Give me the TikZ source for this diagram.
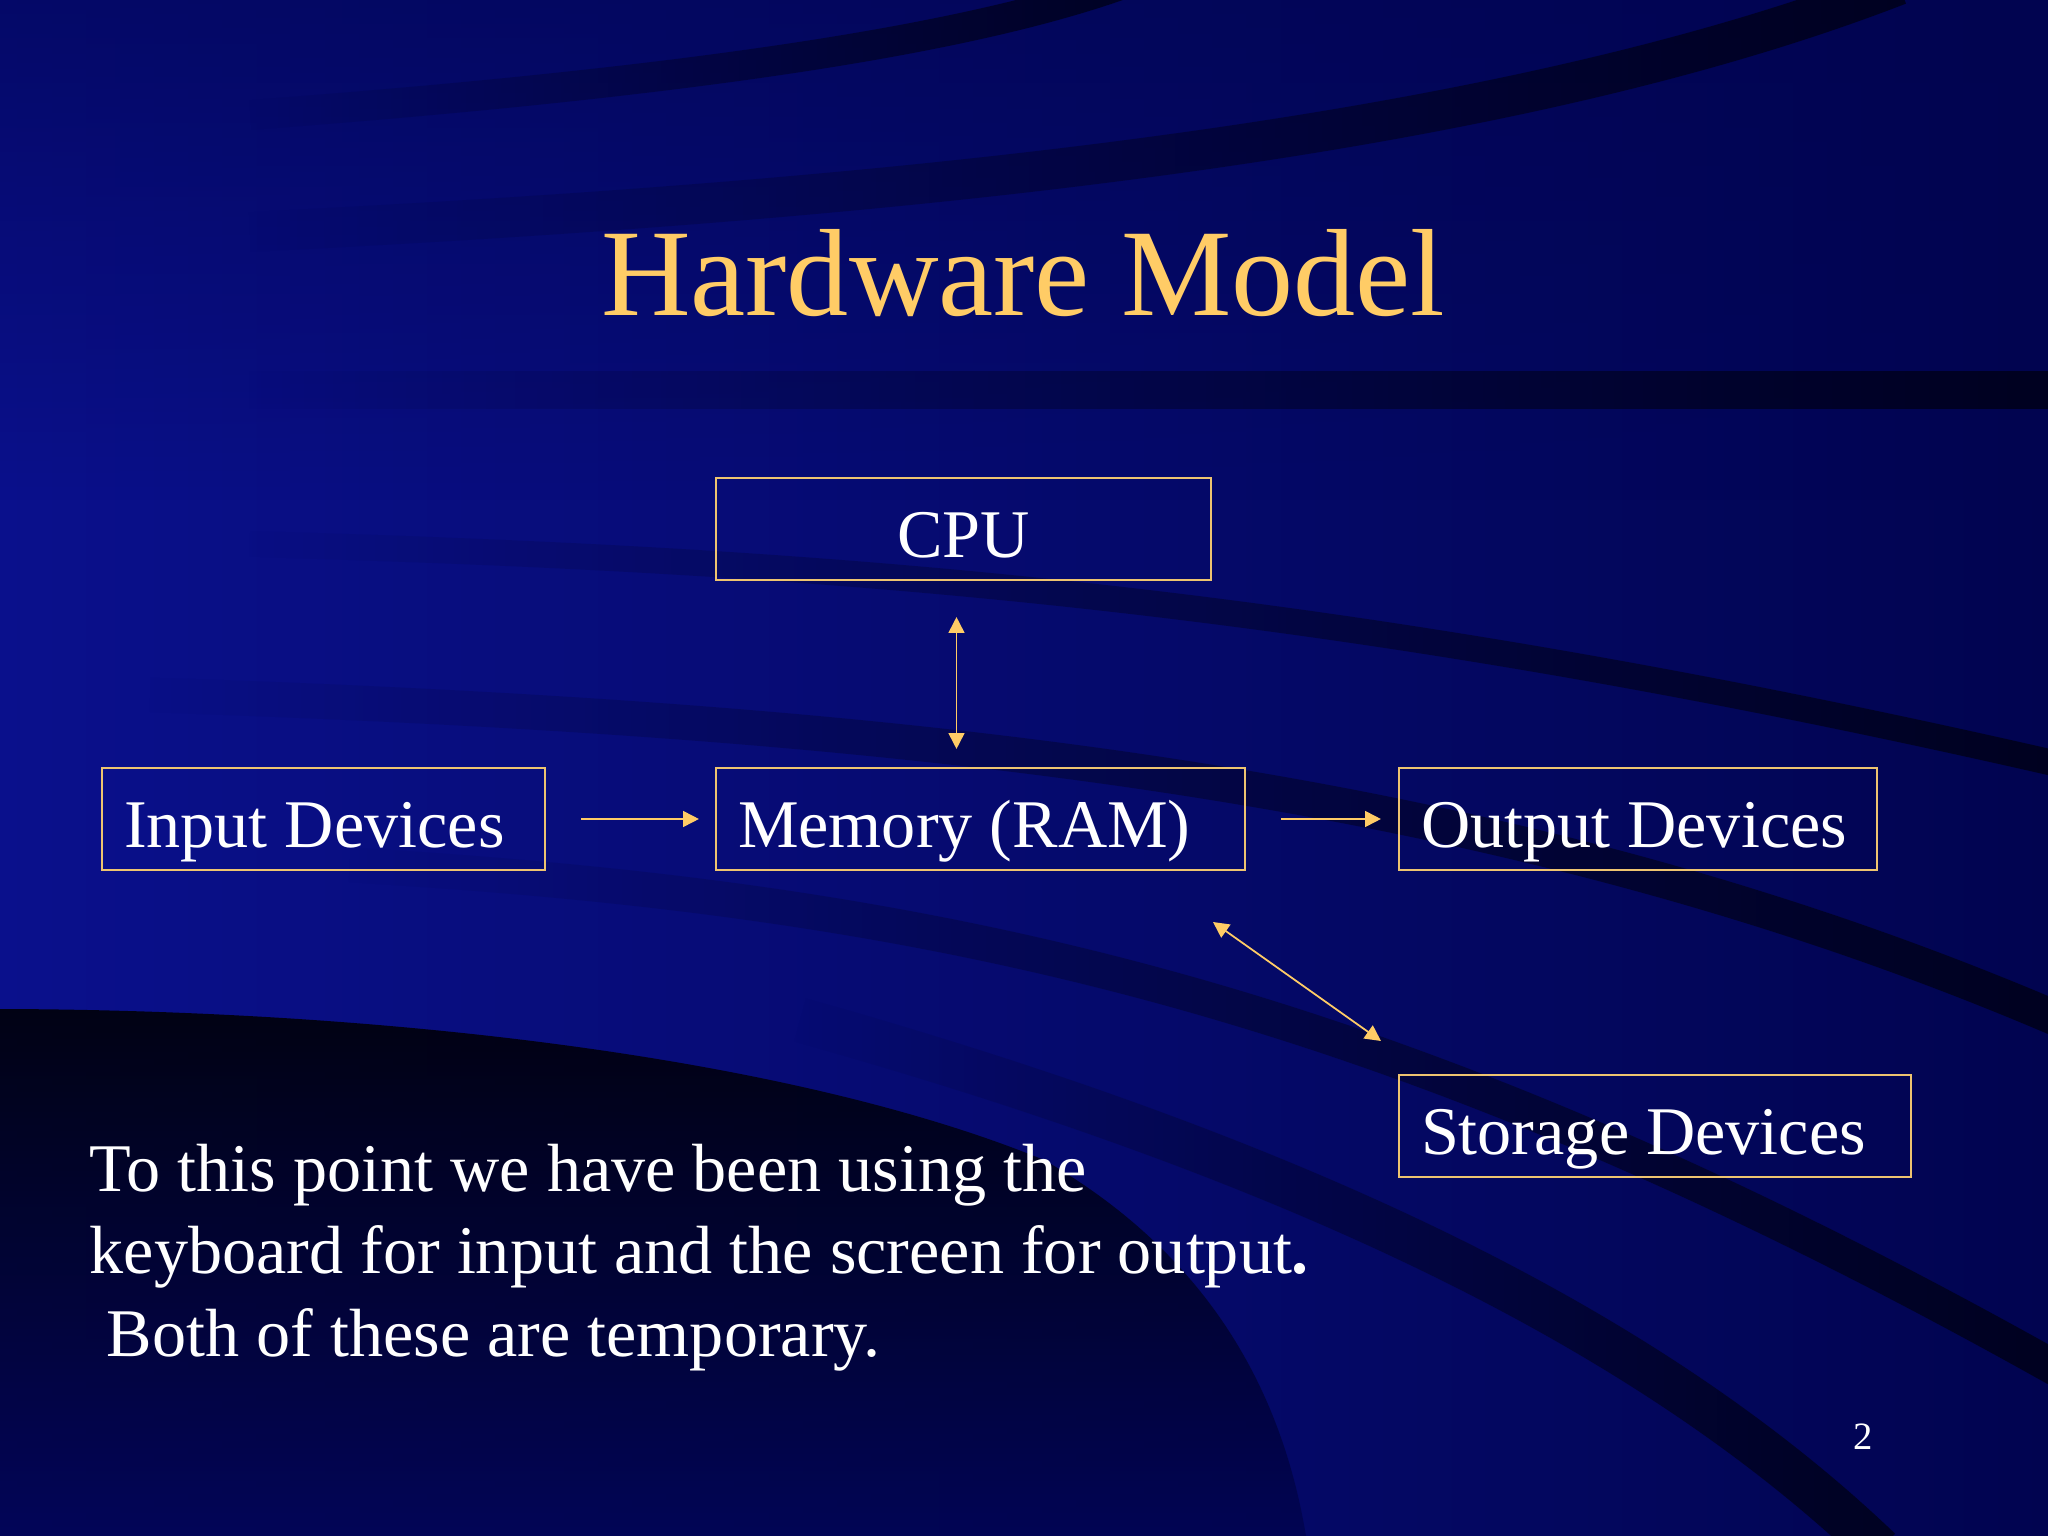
\documentclass[tikz,border=0pt]{standalone}
\usepackage{fontspec}
\setmainfont{Liberation Serif}
\usetikzlibrary{arrows.meta,fadings}
\definecolor{slidegold}{RGB}{255,204,102}
\definecolor{boxgold}{RGB}{238,196,112}
\definecolor{slideblue}{RGB}{10,16,140}
\definecolor{slidedark}{RGB}{1,4,80}
\tikzset{
  unit/.style={draw=boxgold, line width=0.6pt, text=white,
    font=\fontsize{19.4}{23}\selectfont, align=flush left,
    minimum height=1.02cm, inner xsep=0.22cm, inner ysep=2pt,
    text height=20pt, text depth=4pt},
  link/.style={-{Triangle[length=4.5pt,width=4.5pt]}, draw=slidegold,
    line width=0.5pt},
  dlink/.style={link, {Triangle[length=4.5pt,width=4.5pt]}-{Triangle[length=4.5pt,width=4.5pt]}},
  swoosh/.style={draw=black, opacity=0.6, path fading=west}
}
\begin{document}
\begin{tikzpicture}
  % background
  \useasboundingbox (0,0) rectangle (20.48,-15.36);
  \shade[left color=slideblue, right color=slidedark] (0,0) rectangle (20.48,-15.36);
  \fill[slidedark, opacity=0.6, path fading=south] (0,0) rectangle (20.48,-5);
  \draw[swoosh, line width=0.3cm] (2.5,-1.15) .. controls (6.5,-0.85) and (9.5,-0.45) .. (11.2,0.15);
  \draw[swoosh, line width=0.4cm] (2.5,-2.32) .. controls (9,-2.0) and (15,-1.4) .. (19,0.15);
  \draw[swoosh, line width=0.38cm] (2.5,-3.9) -- (20.6,-3.9);
  \draw[swoosh, line width=0.26cm] (2.5,-5.44) .. controls (8,-5.6) and (13,-5.9) .. (20.6,-7.64);
  \draw[swoosh, line width=0.35cm] (1.5,-6.95) .. controls (9,-7.2) and (15,-7.8) .. (20.6,-10.2);
  \draw[swoosh, line width=0.35cm] (3.5,-8.65) .. controls (9.5,-9.0) and (14,-10.0) .. (20.6,-13.7);
  \draw[swoosh, line width=0.45cm] (8,-10.2) .. controls (13,-11.6) and (16.5,-13.3) .. (18.8,-15.5);
  \shade[top color=black, bottom color=slidedark, opacity=0.85]
    (0,-10.09) .. controls (4,-10.1) and (8,-10.6) .. (10.44,-11.6)
    .. controls (12,-12.5) and (12.8,-13.8) .. (13.06,-15.36) -- (0,-15.36) -- cycle;

  % title
  \node[font=\fontsize{35.3}{40}\selectfont, text=slidegold, anchor=base] (title) at (10.23,-3.16) {Hardware Model};

  % boxes
  \node[unit, text width=4.51cm, align=flush center] (cpu) at (9.635,-5.29) {CPU};
  \node[unit, text width=3.99cm] (in) at (3.235,-8.19) {Input Devices};
  \node[unit, text width=4.85cm] (mem) at (9.805,-8.19) {Memory (RAM)};
  \node[unit, text width=4.34cm] (out) at (16.38,-8.19) {Output Devices};
  \node[unit, text width=4.68cm] (sto) at (16.55,-11.26) {Storage Devices};
  \coordinate (memport) at (12.13,-9.22);
  \coordinate (stoport) at (13.81,-10.41);

  % connectors
  \draw[dlink, shorten <=0.36cm, shorten >=0.18cm] ([xshift=-0.07cm]cpu.south) -- ([xshift=-0.07cm]cpu.south |- mem.north);
  \draw[link, shorten <=0.35cm, shorten >=0.16cm] (in) -- (mem);
  \draw[link, shorten <=0.35cm, shorten >=0.17cm] (mem) -- (out);
  \draw[dlink] (memport) -- (stoport);

  % text
  \node[anchor=base west, inner sep=0, text width=13cm, align=flush left, text=white,
    font=\fontsize{19.4}{23.6}\selectfont] (note) at (0.89,-11.91)
    {To this point we have been using the\\
     keyboard for input and the screen for output\textbf{.}\\
     \hspace*{0.25em}Both of these are temporary.};
  \node[anchor=base, text=white, font=\fontsize{11}{13}\selectfont] (page) at (18.63,-14.49) {2};
\end{tikzpicture}
\end{document}
